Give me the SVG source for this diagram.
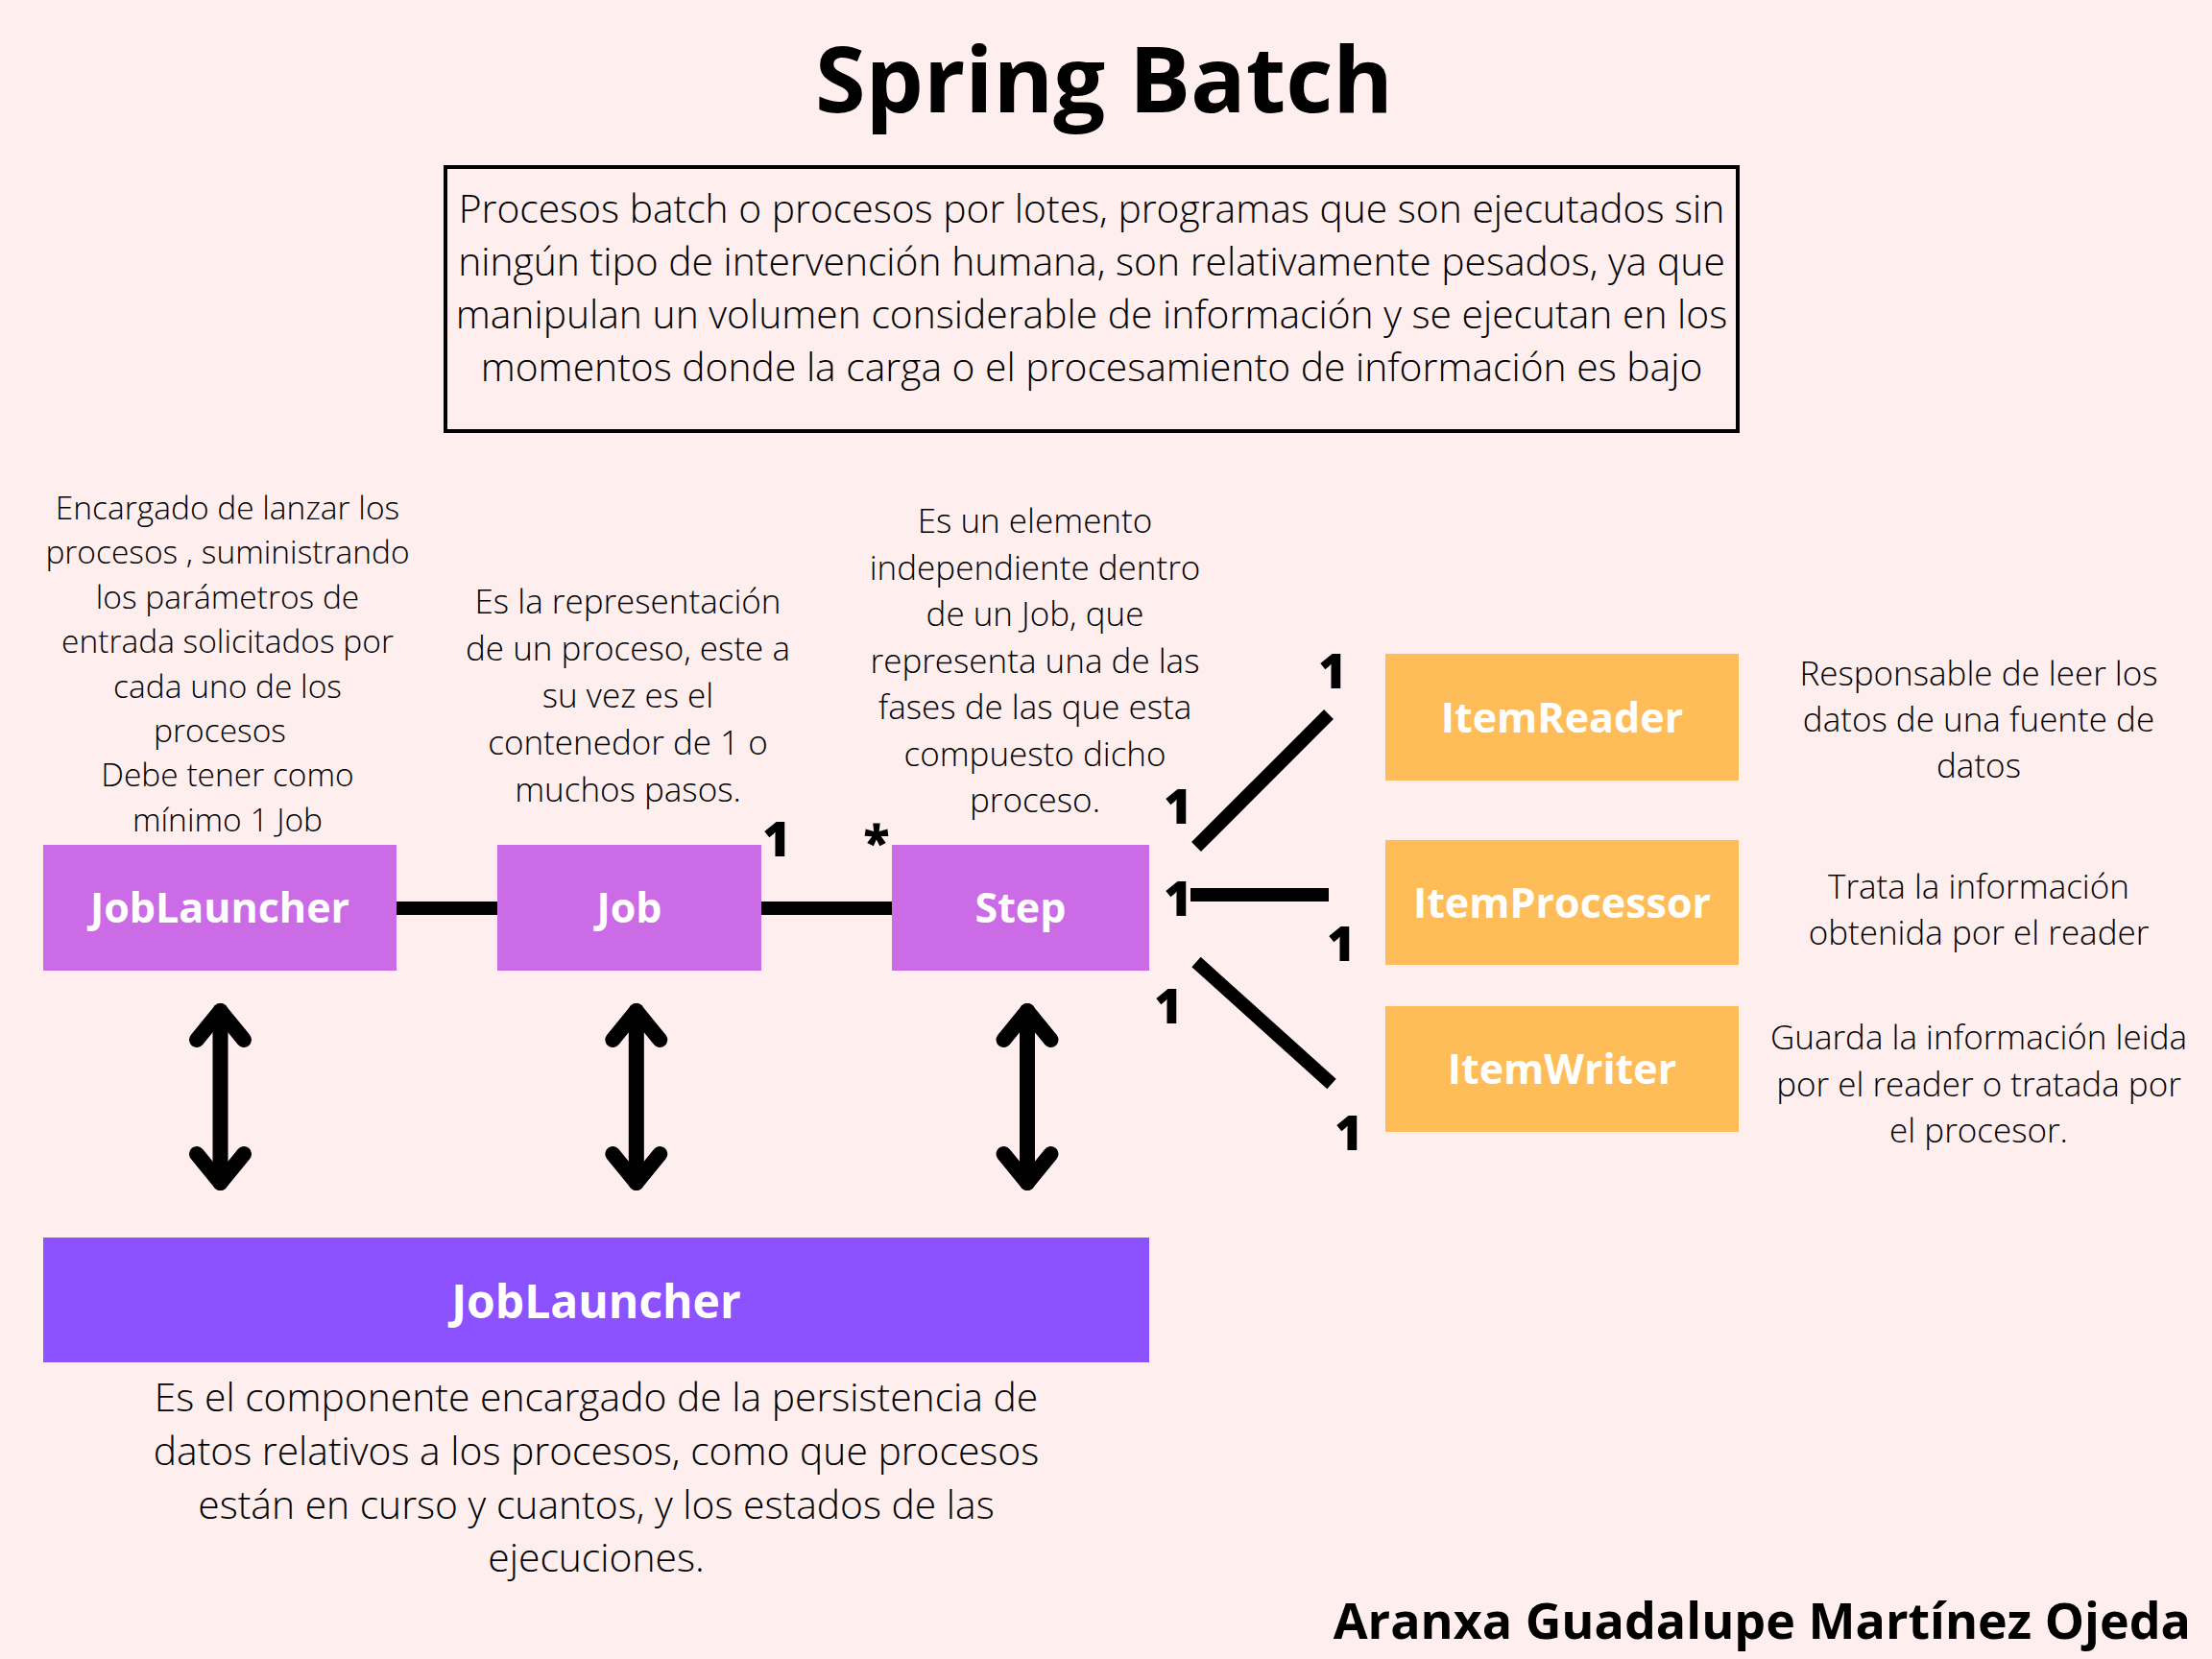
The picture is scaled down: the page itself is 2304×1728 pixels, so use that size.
<svg xmlns="http://www.w3.org/2000/svg" width="2304" height="1728" viewBox="0 0 2304 1728">
<defs>
<style>
text{font-family:"Open Sans","Noto Sans","DejaVu Sans",sans-serif;text-anchor:middle;fill:#000}
.t{font-size:95.5px;font-weight:700}
.d{font-size:40.8px;font-weight:300}
.s{font-size:33.5px;font-weight:300}
.m{font-size:35px;font-weight:300}
.r{font-size:35px;font-weight:300}
.lbl{font-size:43px;font-weight:700;fill:#fff}
.big{font-size:48px;font-weight:700;fill:#fff}
.n{font-size:50px;font-weight:800}
.p{fill:#CB6CE6}
.o{fill:#FFBD59}
.c{stroke:#000;stroke-width:14;stroke-linecap:butt;fill:none}
.a{stroke:#000;stroke-width:16;stroke-linecap:round;stroke-linejoin:round;fill:none}
</style>
</defs>
<rect width="2304" height="1728" fill="#FFEEEE"/>
<g id="title">
<text class="t" x="1150" y="117">Spring Batch</text>
</g>
<g id="intro">
<rect x="464" y="174" width="1346" height="275" fill="none" stroke="#000" stroke-width="4"/>
<text class="d" x="1137" y="232">Procesos batch o procesos por lotes, programas que son ejecutados sin</text>
<text class="d" x="1137" y="287">ningún tipo de intervención humana, son relativamente pesados, ya que</text>
<text class="d" x="1137" y="342">manipulan un volumen considerable de información y se ejecutan en los</text>
<text class="d" x="1137" y="397">momentos donde la carga o el procesamiento de información es bajo</text>
</g>
<g id="connectors">
<line class="c" x1="413" y1="946" x2="518" y2="946"/>
<line class="c" x1="793" y1="946" x2="929" y2="946"/>
<line class="c" x1="1246" y1="882" x2="1384" y2="744"/>
<line class="c" x1="1240" y1="932" x2="1384" y2="932"/>
<line class="c" x1="1246" y1="1002" x2="1387" y2="1129"/>
<g id="arrow1">
<line class="a" x1="229.5" y1="1053" x2="229.5" y2="1232"/>
<polyline class="a" points="205,1083 229.5,1053 254,1083"/>
<polyline class="a" points="205,1202 229.5,1232 254,1202"/>
</g>
<g id="arrow2">
<line class="a" x1="662.8" y1="1053" x2="662.8" y2="1232"/>
<polyline class="a" points="638.3,1083 662.8,1053 687.3,1083"/>
<polyline class="a" points="638.3,1202 662.8,1232 687.3,1202"/>
</g>
<g id="arrow3">
<line class="a" x1="1070" y1="1053" x2="1070" y2="1232"/>
<polyline class="a" points="1045.5,1083 1070,1053 1094.5,1083"/>
<polyline class="a" points="1045.5,1202 1070,1232 1094.5,1202"/>
</g>
<text class="n" x="809" y="892">1</text>
<text class="n" x="913" y="895">*</text>
<text class="n" x="1388" y="717">1</text>
<text class="n" x="1227" y="858">1</text>
<text class="n" x="1227" y="954">1</text>
<text class="n" x="1397" y="1001">1</text>
<text class="n" x="1217" y="1066">1</text>
<text class="n" x="1405" y="1198">1</text>
</g>
<g id="jobLauncher">
<rect class="p" x="45" y="880" width="368" height="131"/>
<text class="lbl" x="229" y="961">JobLauncher</text>
<text class="s" x="237" y="541">Encargado de lanzar los</text>
<text class="s" x="237" y="587.4">procesos , suministrando</text>
<text class="s" x="237" y="633.8">los parámetros de</text>
<text class="s" x="237" y="680.2">entrada solicitados por</text>
<text class="s" x="237" y="726.6">cada uno de los</text>
<text class="s" x="229" y="773">procesos</text>
<text class="s" x="237" y="819.4">Debe tener como</text>
<text class="s" x="237" y="865.8">mínimo 1 Job</text>
</g>
<g id="job">
<rect class="p" x="518" y="880" width="275" height="131"/>
<text class="lbl" x="655.5" y="961">Job</text>
<text class="m" x="654" y="639">Es la representación</text>
<text class="m" x="654" y="688">de un proceso, este a</text>
<text class="m" x="654" y="737">su vez es el</text>
<text class="m" x="654" y="786">contenedor de 1 o</text>
<text class="m" x="654" y="835">muchos pasos.</text>
</g>
<g id="step">
<rect class="p" x="929" y="880" width="268" height="131"/>
<text class="lbl" x="1063" y="961">Step</text>
<text class="m" x="1078" y="555">Es un elemento</text>
<text class="m" x="1078" y="603.5">independiente dentro</text>
<text class="m" x="1078" y="652">de un Job, que</text>
<text class="m" x="1078" y="700.5">representa una de las</text>
<text class="m" x="1078" y="749">fases de las que esta</text>
<text class="m" x="1078" y="797.5">compuesto dicho</text>
<text class="m" x="1078" y="846">proceso.</text>
</g>
<g id="itemReader">
<rect class="o" x="1443" y="681" width="368" height="132"/>
<text class="lbl" x="1627" y="763">ItemReader</text>
<text class="r" x="2061" y="714">Responsable de leer los</text>
<text class="r" x="2061" y="762">datos de una fuente de</text>
<text class="r" x="2061" y="810">datos</text>
</g>
<g id="itemProcessor">
<rect class="o" x="1443" y="875" width="368" height="130"/>
<text class="lbl" x="1627" y="956">ItemProcessor</text>
<text class="r" x="2061" y="936">Trata la información</text>
<text class="r" x="2061" y="984">obtenida por el reader</text>
</g>
<g id="itemWriter">
<rect class="o" x="1443" y="1048" width="368" height="131"/>
<text class="lbl" x="1627" y="1129">ItemWriter</text>
<text class="r" x="2061" y="1093">Guarda la información leida</text>
<text class="r" x="2061" y="1142">por el reader o tratada por</text>
<text class="r" x="2061" y="1190">el procesor.</text>
</g>
<g id="jobRepository">
<rect x="45" y="1289" width="1152" height="130" fill="#8C52FF"/>
<text class="big" x="621" y="1373">JobLauncher</text>
<text class="d" x="621" y="1470">Es el componente encargado de la persistencia de</text>
<text class="d" x="621" y="1526">datos relativos a los procesos, como que procesos</text>
<text class="d" x="621" y="1582">están en curso y cuantos, y los estados de las</text>
<text class="d" x="621" y="1637">ejecuciones.</text>
</g>
<g id="author">
<text x="2282" y="1707" style="font-size:52px;font-weight:700;text-anchor:end">Aranxa Guadalupe Martínez Ojeda</text>
</g>
</svg>
